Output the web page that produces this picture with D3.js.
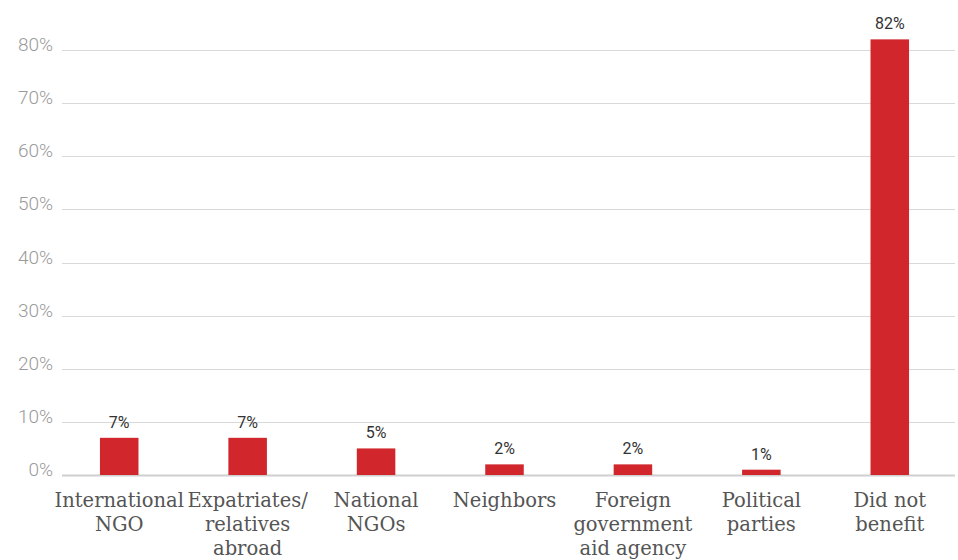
<!DOCTYPE html>
<html>
<head>
<meta charset="utf-8">
<script src="https://cdn.jsdelivr.net/npm/d3@7"></script>
<style>
  html, body { margin: 0; padding: 0; background: #fff; }
  svg { display: block; }
</style>
</head>
<body>
<svg id="chart" width="958" height="560"></svg>
<script>
// Source of benefit after the disaster (share of respondents)
const categories = [
  ["International", "NGO"],
  ["Expatriates/", "relatives", "abroad"],
  ["National", "NGOs"],
  ["Neighbors"],
  ["Foreign", "government", "aid agency"],
  ["Political", "parties"],
  ["Did not", "benefit"]
];
const values = [7, 7, 5, 2, 2, 1, 82];
const yTicks = [0, 10, 20, 30, 40, 50, 60, 70, 80];

const svg = d3.select("#chart");
const gridLeft = 62, gridRight = 955;

const x = d3.scaleBand()
  .domain(d3.range(categories.length))
  .range([55, 954])
  .paddingInner(0.70)
  .paddingOuter(0.35);

const y = d3.scaleLinear().domain([0, 80]).range([475, 50]);

// gridlines
svg.append("g").selectAll("line")
  .data(yTicks)
  .join("line")
  .attr("x1", gridLeft).attr("x2", gridRight)
  .attr("y1", d => Math.round(y(d)) + 0.5)
  .attr("y2", d => Math.round(y(d)) + 0.5)
  .attr("stroke", d => d === 0 ? "#cfcfcf" : "#d9d9d9")
  .attr("stroke-width", d => d === 0 ? 2 : 1);

// y tick labels
svg.append("g").selectAll("text")
  .data(yTicks)
  .join("text")
  .attr("x", 53)
  .attr("y", d => y(d) + 1)
  .attr("text-anchor", "end")
  .attr("font-family", "Roboto, 'Open Sans', sans-serif")
  .attr("font-weight", 300)
  .attr("font-size", 19)
  .attr("fill", "#9a9a9a")
  .text(d => d + "%");

// bars
svg.append("g").selectAll("rect")
  .data(values)
  .join("rect")
  .attr("x", (d, i) => x(i))
  .attr("width", x.bandwidth())
  .attr("y", d => y(d))
  .attr("height", d => y(0) - y(d))
  .attr("fill", "#d0262c");

// value labels
svg.append("g").selectAll("text")
  .data(values)
  .join("text")
  .attr("x", (d, i) => x(i) + x.bandwidth() / 2)
  .attr("y", d => y(d) - 10)
  .attr("text-anchor", "middle")
  .attr("font-family", "Roboto, 'Open Sans', sans-serif")
  .attr("font-size", 16)
  .attr("fill", "#333")
  .text(d => d + "%");

// category labels
const cat = svg.append("g").selectAll("text")
  .data(categories)
  .join("text")
  .attr("x", (d, i) => x(i) + x.bandwidth() / 2)
  .attr("y", 507)
  .attr("text-anchor", "middle")
  .attr("font-family", "'DejaVu Serif', serif")
  .attr("font-size", 19.5)
  .attr("fill", "#555");
cat.selectAll("tspan")
  .data(d => d)
  .join("tspan")
  .attr("x", function () { return d3.select(this.parentNode).attr("x"); })
  .attr("dy", (d, i) => i === 0 ? 0 : 24)
  .text(d => d);
</script>
</body>
</html>
